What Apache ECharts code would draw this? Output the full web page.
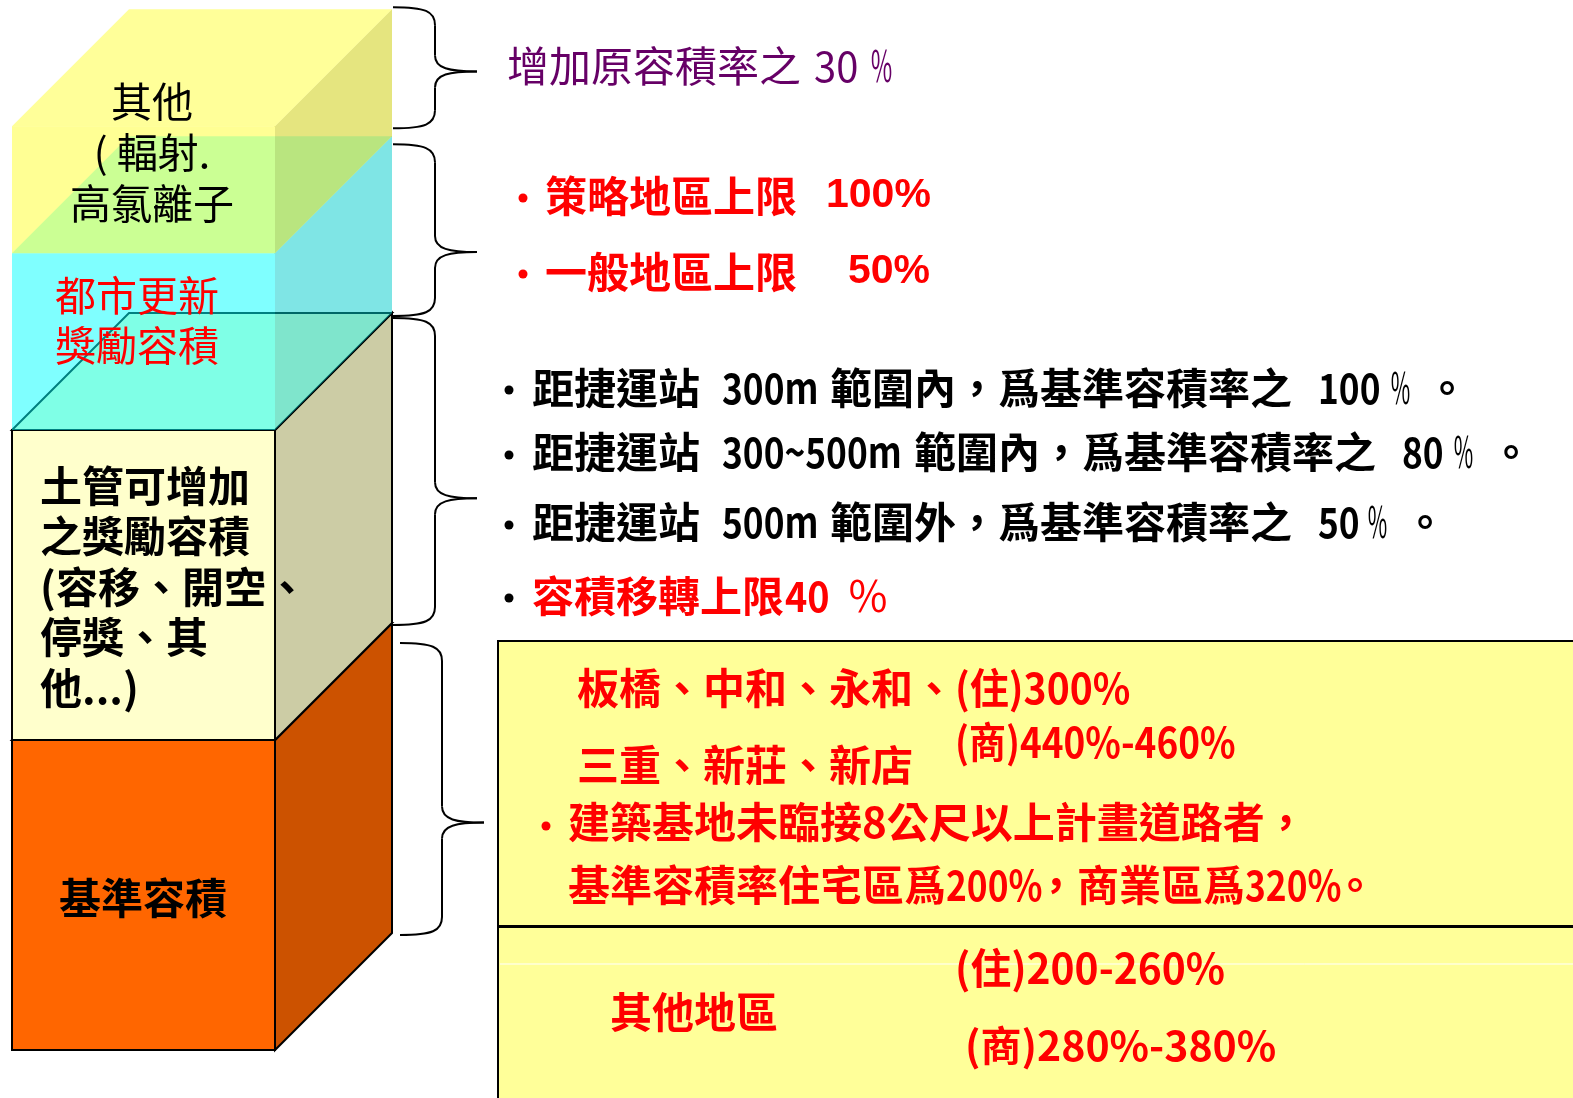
<!DOCTYPE html>
<html><head><meta charset="utf-8">
<script src="https://cdn.jsdelivr.net/npm/echarts@6/dist/echarts.min.js"></script>
<style>html,body{margin:0;padding:0;background:#fff}#c{width:1573px;height:1098px}</style>
</head><body><div id="c"></div>
<script>
// ---------- data ----------
const layerNames = ['基準容積', '土管可增加之獎勵容積', '都市更新獎勵容積', '其他'];
const layerHeights = [100, 100, 57, 41];
const layerLabels = ['基準容積', '土管可增加\n之獎勵容積\n(容移、開空、\n停獎、其\n他...)', '都市更新\n獎勵容積', '其他\n( 輻射.\n高氯離子'];
const otherNote = ['增加原容積率之', '30', '％'];
const renewalCapNames = ['策略地區上限', '一般地區上限'];
const renewalCapValues = ['100%', '50%'];
const transitRule1 = ['距捷運站', '300m', '範圍內，爲基準容積率之', '100', '％', '。'];
const transitRule2 = ['距捷運站', '300~500m', '範圍內，爲基準容積率之', '80', '％', '。'];
const transitRule3 = ['距捷運站', '500m', '範圍外，爲基準容積率之', '50', '％', '。'];
const transferCap = ['容積移轉上限', '40', '％'];
const baseAreas1 = ['板橋、中和、永和、', '三重、新莊、新店'];
const baseRates1 = ['(住)300%', '(商)440%-460%'];
const baseRule1 = '建築基地未臨接8公尺以上計畫道路者，';
const baseRule2 = ['基準容積率住宅區爲', '200%', '，商業區爲', '320%', '。'];
const baseAreas2 = ['其他地區'];
const baseRates2 = ['(住)200-260%', '(商)280%-380%'];

// ---------- styles ----------
const FONT = '"Noto Sans CJK TC","Noto Sans CJK SC",sans-serif';
const ARIAL = '"Liberation Sans",Arial,sans-serif';
const RED = '#FF0000';
const DEPTH = 117;
const layerStyle = [
  {front:'#FF6600', side:'#CC5200', top:'#FF6600', stroke:'#000', label:'#000', weight:'bold', size:42, align:'center', dx:131, dy:3, lh:50},
  {front:'#FFFFCC', side:'#CCCCA5', top:'#FFFFCC', stroke:'#000', label:'#000', weight:'bold', size:42, align:'left', dx:28, dy:2, lh:50.5},
  {front:'rgba(0,255,255,0.5)', side:'rgba(0,204,204,0.5)', top:'rgba(0,255,255,0.35)', stroke:null, label:RED, weight:'normal', size:41, align:'left', dx:43, dy:-21, lh:50},
  {front:'rgba(255,255,0,0.42)', side:'rgba(204,204,0,0.5)', top:'rgba(255,255,0,0.4)', stroke:null, label:'#000', weight:'normal', size:41, align:'center', dx:140, dy:-37, lh:51}
];
const braceStyle = [
  {dx:8, top:20, bot:-2, tip:0.615},
  {dx:1, top:5, bot:-2, tip:0.587},
  {dx:1, top:8, bot:-3, tip:0.627},
  {dx:1, top:-2, bot:8, tip:0.53}
];

let acc = 0;
const layerData = layerHeights.map((h, i) => { const s = acc; acc += h; return [i, s, acc]; });

function brace(x0, yTop, yBot, tipY) {
  const x1 = x0 + 42, x2 = x0 + 84;
  const st = {stroke:'#000', lineWidth:2, fill:'none'};
  return [
    {type:'bezierCurve', shape:{x1:x0,y1:yTop,cpx1:x0+32,cpy1:yTop,cpx2:x1,cpy2:yTop+4,x2:x1,y2:yTop+18}, style:st},
    {type:'line', shape:{x1:x1,y1:yTop+18,x2:x1,y2:tipY-16}, style:st},
    {type:'bezierCurve', shape:{x1:x1,y1:tipY-16,cpx1:x1,cpy1:tipY-3,cpx2:x1+14,cpy2:tipY,x2:x2,y2:tipY}, style:st},
    {type:'bezierCurve', shape:{x1:x2,y1:tipY,cpx1:x1+14,cpy1:tipY,cpx2:x1,cpy2:tipY+3,x2:x1,y2:tipY+16}, style:st},
    {type:'line', shape:{x1:x1,y1:tipY+16,x2:x1,y2:yBot-18}, style:st},
    {type:'bezierCurve', shape:{x1:x1,y1:yBot-18,cpx1:x1,cpy1:yBot-4,cpx2:x0+32,cpy2:yBot,x2:x0,y2:yBot}, style:st}
  ];
}

function renderItem(params, api) {
  const i = params.dataIndex;
  const s = layerStyle[i], b = braceStyle[i];
  const bl = api.coord([0, api.value(1)]);
  const tr = api.coord([1, api.value(2)]);
  const xL = bl[0], yB = bl[1], xR = tr[0], yT = tr[1], d = DEPTH;
  const lw = s.stroke ? 2 : 0;
  const children = [
    {type:'rect', shape:{x:xL, y:yT, width:xR-xL, height:yB-yT}, style:{fill:s.front, stroke:s.stroke, lineWidth:lw}},
    {type:'polygon', shape:{points:[[xR,yT],[xR+d,yT-d],[xR+d,yB-d],[xR,yB]]}, style:{fill:s.side, stroke:s.stroke, lineWidth:lw}},
    {type:'polygon', shape:{points:[[xL,yT],[xL+d,yT-d],[xR+d,yT-d],[xR,yT]]}, style:{fill:s.top, stroke:s.stroke, lineWidth:lw}}
  ];
  if (s.stripes) {
    for (let y = yT + 5; y < yB; y += 10) {
      children.push({type:'line', shape:{x1:xL+4, y1:y, x2:xR-2, y2:y}, style:{stroke:'rgba(0,235,255,0.55)', lineWidth:1}});
    }
  }
  children.push({type:'text', style:{text:layerLabels[i], x:xL + s.dx, y:(yT+yB)/2 + s.dy, fill:s.label,
    font: s.weight + ' ' + s.size + 'px ' + FONT, lineHeight:s.lh, textAlign:s.align, textVerticalAlign:'middle'}});
  const top = yT - d + b.top, bot = yB - d - b.bot;
  brace(xR + d + b.dx, top, bot, top + (bot - top) * b.tip).forEach(e => children.push(e));
  return {type:'group', children};
}

function txt(x, y, text, color, size, weight, family, sx) {
  return {type:'text', x, y, scaleX: sx || 1, style:{text, fill:color, font:(weight||'normal') + ' ' + size + 'px ' + (family||FONT), textVerticalAlign:'middle'}, z:10};
}
function bullet(cx, y, color) {
  return {type:'circle', shape:{cx, cy:y, r:4.5}, style:{fill:color}, z:10};
}
// a line made of pieces: pieces[k] placed at xs[k], with per-piece options
function line(pieces, xs, y, color, size, weight, opts) {
  return pieces.map((p, k) => {
    const o = (opts && opts[k]) || {};
    return txt(xs[k], y, p, o.color || color, o.size || size, o.weight || weight, o.family, o.sx);
  });
}
const DIG = {sx:0.84};
const PCT = {weight:'normal', sx:0.5};

const els = [
  {type:'rect', shape:{x:498, y:641, width:1100, height:285}, style:{fill:'#FFFF99', stroke:'#000', lineWidth:2}},
  {type:'rect', shape:{x:498, y:927, width:1100, height:200}, style:{fill:'#FFFF99', stroke:'#000', lineWidth:2}},
  {type:'line', shape:{x1:500, y1:964, x2:1573, y2:964}, style:{stroke:'#fff', lineWidth:1}},
  ...line(otherNote, [507, 814, 870], 66, '#660066', 42, 'normal', [null, {sx:0.95}, {sx:0.55}]),
  bullet(523, 198, RED), txt(545, 196, renewalCapNames[0], RED, 42, 'bold'),
  txt(826, 196, renewalCapValues[0], RED, 41, 'bold', ARIAL),
  bullet(523, 274, RED), txt(545, 272, renewalCapNames[1], RED, 42, 'bold'),
  txt(848, 272, renewalCapValues[1], RED, 41, 'bold', ARIAL),
  bullet(509, 390, '#000'), ...line(transitRule1, [532, 722, 830, 1318, 1390, 1426], 388, '#000', 42, 'bold', [null, DIG, null, DIG, PCT, null]),
  bullet(509, 455, '#000'), ...line(transitRule2, [532, 722, 914, 1402, 1453, 1490], 452, '#000', 42, 'bold', [null, DIG, null, DIG, PCT, null]),
  bullet(509, 525, '#000'), ...line(transitRule3, [532, 722, 830, 1318, 1367, 1404], 522, '#000', 42, 'bold', [null, DIG, null, DIG, PCT, null]),
  bullet(509, 598, '#000'), ...line(transferCap, [532, 785, 847], 596, RED, 42, 'bold', [null, {sx:0.9}, {weight:'normal'}]),
  ...line([baseAreas1[0], baseRates1[0]], [577, 955], 688, RED, 42, 'bold', [null, {sx:0.93}]),
  txt(955, 742, baseRates1[1], RED, 42, 'bold', null, 0.88),
  txt(577, 765, baseAreas1[1], RED, 42, 'bold'),
  bullet(546, 826, RED), txt(568, 822, baseRule1, RED, 42, 'bold'),
  ...line(baseRule2, [568, 946, 1035, 1245, 1334], 885, RED, 42, 'bold', [null, DIG, null, DIG, null]),
  txt(955, 968, baseRates2[0], RED, 42, 'bold', null, 0.97),
  txt(610, 1012, baseAreas2[0], RED, 42, 'bold'),
  txt(965, 1045, baseRates2[1], RED, 41, 'bold')
];

const chart = echarts.init(document.getElementById('c'), null, {renderer:'canvas'});
chart.setOption({
  animation: false,
  backgroundColor: '#fff',
  grid: {left: 12, right: 1298, top: 120, bottom: 48},
  xAxis: {type:'value', min:0, max:1, show:false},
  yAxis: {type:'value', min:0, max:300, show:false},
  series: [{type:'custom', name:'容積', clip:false, renderItem, data: layerData,
    encode: {x: -1, y: [1, 2]}, silent: true}],
  graphic: {elements: els}
});
</script></body></html>
